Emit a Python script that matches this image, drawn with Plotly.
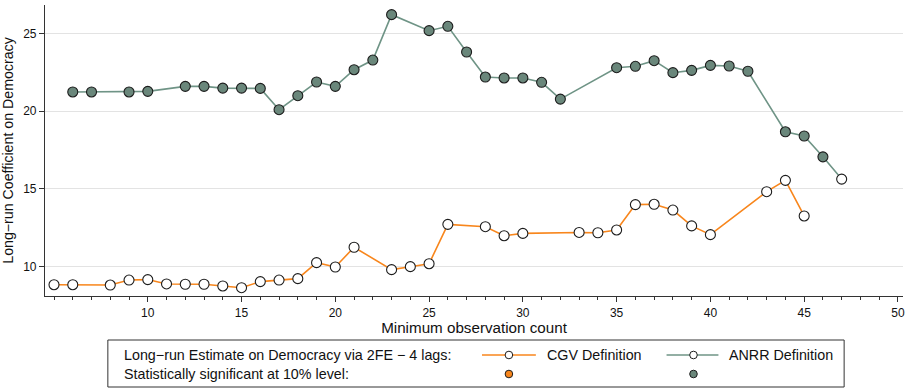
import plotly.graph_objects as go

# ---------------- data ----------------
cgv_x = [5, 6, 8, 9, 10, 11, 12, 13, 14, 15, 16, 17, 18, 19, 20, 21, 23, 24, 25, 26,
         28, 29, 30, 33, 34, 35, 36, 37, 38, 39, 40, 43, 44, 45]
cgv_y = [8.84, 8.84, 8.82, 9.14, 9.17, 8.89, 8.87, 8.87, 8.76, 8.65, 9.04, 9.14, 9.23,
         10.26, 9.98, 11.25, 9.81, 10.0, 10.19, 12.72,
         12.57, 11.99, 12.14, 12.2, 12.18, 12.36, 13.99, 14.01, 13.64, 12.62, 12.06,
         14.82, 15.55, 13.26]
cgv_sig = [False] * len(cgv_x)

anrr_x = [6, 7, 9, 10, 12, 13, 14, 15, 16, 17, 18, 19, 20, 21, 22, 23, 25, 26,
          27, 28, 29, 30, 31, 32, 35, 36, 37, 38, 39, 40, 41, 42, 44, 45, 46, 47]
anrr_y = [21.23, 21.23, 21.23, 21.27, 21.59, 21.59, 21.48, 21.48, 21.46, 20.09, 20.99,
          21.87, 21.59, 22.66, 23.28, 26.2, 25.17, 25.45,
          23.8, 22.19, 22.13, 22.13, 21.85, 20.77, 22.79, 22.88, 23.24, 22.47, 22.62,
          22.94, 22.9, 22.56, 18.67, 18.4, 17.06, 15.63]
anrr_sig = [True] * (len(anrr_x) - 1) + [False]

x_ticks = [10, 15, 20, 25, 30, 35, 40, 45, 50]
y_ticks = [10, 15, 20, 25]

x_title = "Minimum observation count"
y_title = "Long\u2212run Coefficient on Democracy"
legend_row1 = "Long\u2212run Estimate on Democracy via 2FE \u2212 4 lags:"
legend_row2 = "Statistically significant at 10% level:"
name_cgv = "CGV Definition"
name_anrr = "ANRR Definition"

# ---------------- style ----------------
ORANGE = "#f8861c"
GREEN_LINE = "#6f9486"
GREEN_FILL = "#6a877b"
OUTLINE = "#1c1c1c"
FONT = "Liberation Sans, Arial, Helvetica, sans-serif"
LEG_FS = 14.3

fig = go.Figure()


def add_series(xs, ys, sig, line_col, fill_col, name):
    fig.add_trace(go.Scatter(x=xs, y=ys, mode="lines", name=name,
                             line=dict(color=line_col, width=1.6),
                             hoverinfo="skip", showlegend=False))
    fig.add_trace(go.Scatter(
        x=xs, y=ys, mode="markers", name=name, showlegend=False,
        marker=dict(size=10, color=[fill_col if s else "white" for s in sig],
                    line=dict(color=OUTLINE, width=1.1))))


add_series(cgv_x, cgv_y, cgv_sig, ORANGE, ORANGE, name_cgv)
add_series(anrr_x, anrr_y, anrr_sig, GREEN_LINE, GREEN_FILL, name_anrr)

# ---------------- layout ----------------
L, R, T, B = 45, 4, 5, 94
W, H = 909, 390
pw, ph = W - L - R, H - T - B


def px(xp):
    return (xp - L) / pw


def py(yp):
    return (H - B - yp) / ph


fig.update_layout(
    width=W, height=H,
    margin=dict(l=L, r=R, t=T, b=B),
    paper_bgcolor="white", plot_bgcolor="white",
    font=dict(family=FONT, color="#111111", size=12),
    showlegend=False,
    xaxis=dict(
        range=[4.52, 50.27], tickvals=x_ticks, ticks="outside", ticklen=5,
        tickwidth=1, tickcolor="#333333", showgrid=False, zeroline=False,
        showline=True, linecolor="#333333", linewidth=1.2,
        tickfont=dict(size=12, family=FONT),
        minor=dict(dtick=1, ticks="outside", ticklen=3, tickcolor="#333333",
                   showgrid=False),
        title=dict(text=x_title, font=dict(size=15.2, family=FONT), standoff=3),
    ),
    yaxis=dict(
        range=[8.115, 26.82], tickvals=y_ticks, ticks="outside", ticklen=5,
        tickwidth=1, tickcolor="#333333", showgrid=True, gridcolor="#e3e3e3",
        gridwidth=1, zeroline=False, showline=True, linecolor="#333333",
        linewidth=1.2, tickfont=dict(size=12, family=FONT),
        title=dict(text=y_title, font=dict(size=14.2, family=FONT), standoff=7),
    ),
)

# ---------------- custom legend ----------------
shapes = []
annotations = []
shapes.append(dict(type="rect", xref="paper", yref="paper",
                   x0=px(108), x1=px(846), y0=py(387), y1=py(340),
                   line=dict(color="#333333", width=1), fillcolor="white"))
row1, row2 = py(355), py(374)
annotations.append(dict(xref="paper", yref="paper", x=px(122), y=row1,
                        text=legend_row1, showarrow=False, xanchor="left",
                        yanchor="middle", font=dict(size=LEG_FS, family=FONT)))
annotations.append(dict(xref="paper", yref="paper", x=px(122), y=row2,
                        text=legend_row2, showarrow=False, xanchor="left",
                        yanchor="middle", font=dict(size=LEG_FS, family=FONT)))

for (lx0, lx1, mx, tx, lc, fc, nm) in [
        (483, 537, 510, 546, ORANGE, ORANGE, name_cgv),
        (668, 720, 695, 729, GREEN_LINE, GREEN_FILL, name_anrr)]:
    shapes.append(dict(type="line", xref="paper", yref="paper",
                       x0=px(lx0), x1=px(lx1), y0=row1, y1=row1,
                       line=dict(color=lc, width=1.6)))
    for (yy, fill) in [(row1, "white"), (row2, fc)]:
        shapes.append(dict(type="circle", xref="paper", yref="paper",
                           xsizemode="pixel", ysizemode="pixel",
                           xanchor=px(mx), yanchor=yy,
                           x0=-3.8, x1=3.8, y0=-3.8, y1=3.8,
                           fillcolor=fill, line=dict(color=OUTLINE, width=1)))
    annotations.append(dict(xref="paper", yref="paper", x=px(tx), y=row1,
                            text=nm, showarrow=False, xanchor="left",
                            yanchor="middle", font=dict(size=LEG_FS, family=FONT)))

fig.update_layout(shapes=shapes, annotations=annotations)

fig.write_html("out.html")
